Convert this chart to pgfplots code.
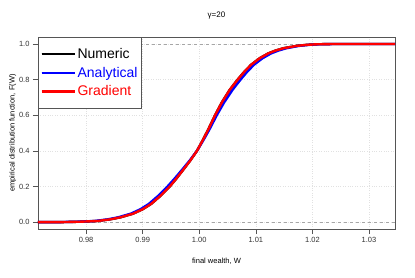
\documentclass[border=0pt]{standalone}
\usepackage{fontspec}
\setmainfont{Liberation Sans}
\usepackage{pgfplots}
\pgfplotsset{compat=1.18}
\definecolor{axgray}{RGB}{85,85,85}
\definecolor{gridgray}{RGB}{225,225,225}
\begin{document}
\begin{tikzpicture}[x=1pt,y=1pt]
\path[use as bounding box] (0,0) rectangle (415,277);
\begin{axis}[
  at={(38pt,48pt)}, anchor=south west,
  scale only axis, width=357pt, height=192pt,
  xmin=0.9715, xmax=1.0346, ymin=-0.039, ymax=1.039,
  xtick={0.98,0.99,1.00,1.01,1.02,1.03},
  ytick={0,0.2,0.4,0.6,0.8,1.0},
  xticklabel style={/pgf/number format/.cd,fixed,fixed zerofill,precision=2},
  yticklabel style={/pgf/number format/.cd,fixed,fixed zerofill,precision=1},
  /pgf/number format/assume math mode=true,
  tick label style={font=\fontsize{7.5}{9}\selectfont, text=black!80},
  tick align=outside, major tick length=5pt,
  tick style={axgray, line width=0.6pt},
  axis line style={axgray, line width=0.8pt},
  xtick pos=bottom, ytick pos=left,
  grid=major, major grid style={gridgray, dotted, line width=0.5pt},
  xlabel={final wealth, W}, ylabel={empirical distribution function, F(W)},
  label style={font=\fontsize{7.5}{9}\selectfont},
  xlabel style={yshift=-8pt},
  ylabel style={yshift=-4pt},
  title={γ=20}, title style={font=\fontsize{8}{9}\selectfont, yshift=8pt},
  legend style={at={(0,1)}, anchor=north west, draw=axgray, line width=0.8pt,
    font=\fontsize{14}{16}\selectfont, inner xsep=2pt, inner ysep=9pt,
    row sep=3.5pt, nodes={inner sep=1.8pt}},
  legend cell align=left,
  legend image code/.code={\draw[#1, line width=1.3pt] (0pt,0pt) -- (24pt,0pt);
    \path (0pt,0pt) -- (33pt,0pt);},
]
\addplot[gray!70, dashed, line width=0.5pt, forget plot] coordinates {(0.9715,0) (1.0346,0)};
\addplot[gray!70, dashed, line width=0.5pt, forget plot] coordinates {(0.9715,1) (1.0346,1)};
\addplot[black, line width=2.4pt] coordinates {
(0.9715,0.000) (0.9760,0.000) (0.9790,0.002) (0.9820,0.006) (0.9842,0.015)
(0.9860,0.026) (0.9883,0.047) (0.9900,0.072) (0.9915,0.102) (0.9931,0.146)
(0.9948,0.200) (0.9960,0.246) (0.9972,0.295) (0.9984,0.345) (0.9996,0.400)
(1.0006,0.458) (1.0016,0.520) (1.0028,0.600) (1.0040,0.672) (1.0054,0.743)
(1.0068,0.800) (1.0080,0.845) (1.0092,0.884) (1.0107,0.920) (1.0122,0.947)
(1.0135,0.963) (1.0149,0.976) (1.0172,0.989) (1.0190,0.995) (1.0207,0.998)
(1.0240,1.000) (1.0346,1.000)};
\addlegendentry{Numeric}
\addplot[blue, line width=2.4pt] coordinates {
(0.9715,0.000) (0.9755,0.000) (0.9785,0.002) (0.9815,0.006) (0.9838,0.015)
(0.9856,0.026) (0.9879,0.047) (0.9896,0.072) (0.9911,0.102) (0.9927,0.146)
(0.9944,0.200) (0.9957,0.246) (0.9970,0.295) (0.9983,0.345) (0.9996,0.400)
(1.0007,0.458) (1.0018,0.520) (1.0031,0.600) (1.0044,0.672) (1.0059,0.743)
(1.0073,0.800) (1.0085,0.845) (1.0097,0.884) (1.0112,0.920) (1.0127,0.947)
(1.0140,0.963) (1.0154,0.976) (1.0176,0.989) (1.0194,0.995) (1.0210,0.998)
(1.0243,1.000) (1.0346,1.000)};
\addlegendentry{\textcolor{blue}{Analytical}}
\addplot[red, line width=2.4pt] coordinates {
(0.9715,0.000) (0.9760,0.000) (0.9790,0.002) (0.9820,0.006) (0.9842,0.015)
(0.9860,0.026) (0.9883,0.047) (0.9900,0.072) (0.9915,0.102) (0.9931,0.146)
(0.9948,0.200) (0.9960,0.246) (0.9972,0.295) (0.9984,0.345) (0.9996,0.400)
(1.0006,0.458) (1.0016,0.520) (1.0028,0.600) (1.0040,0.672) (1.0054,0.743)
(1.0068,0.800) (1.0080,0.845) (1.0092,0.884) (1.0107,0.920) (1.0122,0.947)
(1.0135,0.963) (1.0149,0.976) (1.0172,0.989) (1.0190,0.995) (1.0207,0.998)
(1.0240,1.000) (1.0346,1.000)};
\addlegendentry{\textcolor{red}{Gradient}}
\end{axis}
\end{tikzpicture}
\end{document}
